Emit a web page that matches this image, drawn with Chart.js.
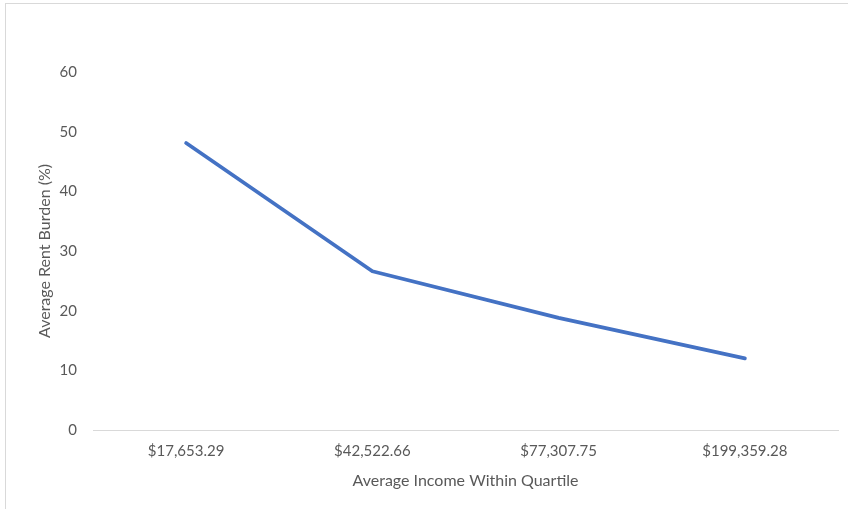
<!DOCTYPE html>
<html>
<head>
<meta charset="utf-8">
<script src="https://cdn.jsdelivr.net/npm/chart.js@4/dist/chart.umd.min.js"></script>
<style>
  html, body { margin: 0; padding: 0; background: #fff; }
  #wrap { position: relative; width: 848px; height: 509px; overflow: hidden; }
  #frame {
    position: absolute; left: 5px; top: 3px; width: 900px; height: 600px;
    border-left: 1px solid #d9d9d9; border-top: 1px solid #d9d9d9;
  }
  #rentChart { position: absolute; left: 0; top: 0; }
</style>
</head>
<body>
<div id="wrap">
  <div id="frame"></div>
  <canvas id="rentChart" width="848" height="509"></canvas>
</div>
<script>
// income quartiles (x categories)
const incomeLabels = ['$17,653.29', '$42,522.66', '$77,307.75', '$199,359.28'];
// average rent burden, %
const rentBurden = [48.1, 26.6, 18.8, 12.0];
const yTicks = { min: 0, max: 60, step: 10 };

const TEXT_COLOR = '#595959';
const LINE_COLOR = '#4472C4';
const FONT = 'Lato, "Open Sans", sans-serif';

const ctx = document.getElementById('rentChart').getContext('2d');
new Chart(ctx, {
  type: 'line',
  data: {
    labels: incomeLabels,
    datasets: [{
      label: 'Average Rent Burden (%)',
      data: rentBurden,
      borderColor: LINE_COLOR,
      backgroundColor: LINE_COLOR,
      borderWidth: 3.75,
      borderCapStyle: 'round',
      borderJoinStyle: 'round',
      pointRadius: 0,
      tension: 0,
      fill: false
    }]
  },
  options: {
    responsive: false,
    animation: false,
    layout: { padding: { left: 30, right: 10, top: 72, bottom: 0 } },
    plugins: {
      legend: { display: false },
      tooltip: { enabled: false }
    },
    scales: {
      x: {
        offset: true,
        grid: { display: false, drawTicks: false },
        border: { display: true, color: '#d9d9d9', width: 1 },
        ticks: {
          color: TEXT_COLOR,
          font: { family: FONT, size: 15 },
          padding: 12,
          maxRotation: 0
        },
        title: {
          display: true,
          text: 'Average Income Within Quartile',
          color: TEXT_COLOR,
          font: { family: FONT, size: 16 },
          padding: { top: 0, bottom: 19 }
        },
        afterFit: s => { s.height = 79; }
      },
      y: {
        min: yTicks.min,
        max: yTicks.max,
        grid: { display: false, drawTicks: false },
        border: { display: false },
        ticks: {
          stepSize: yTicks.step,
          color: TEXT_COLOR,
          font: { family: FONT, size: 15 },
          padding: 16
        },
        title: {
          display: true,
          text: 'Average Rent Burden (%)',
          color: TEXT_COLOR,
          font: { family: FONT, size: 16 },
          padding: { top: 5, bottom: 0 }
        },
        afterFit: s => { s.width = 63; }
      }
    }
  }
});
</script>
</body>
</html>
